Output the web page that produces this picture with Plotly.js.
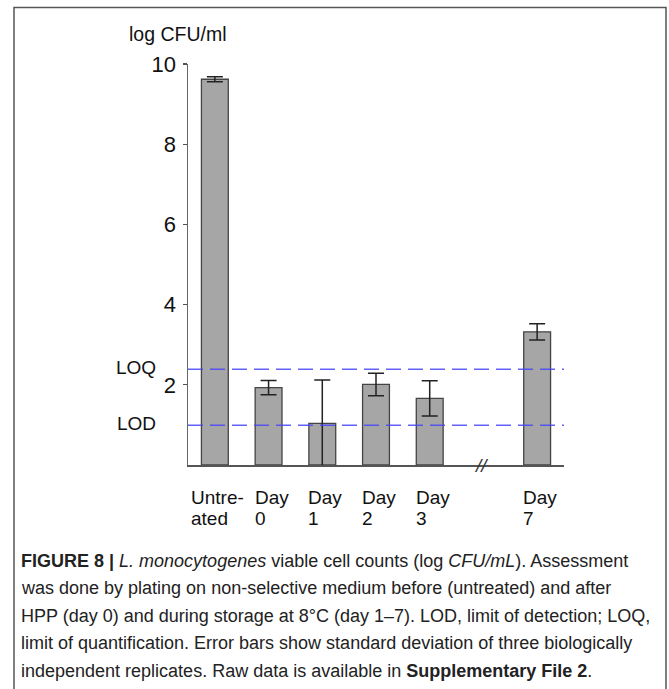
<!DOCTYPE html>
<html><head><meta charset="utf-8">
<script src="https://cdn.plot.ly/plotly-3.0.1.min.js"></script>
<style>html,body{margin:0;padding:0;background:#fff;}</style>
</head><body><div id="chart" style="width:669px;height:689px;"></div>
<script>
// ---- data ----
const categories = ['Untreated','Day 0','Day 1','Day 2','Day 3','break','Day 7'];
const tickLine1  = ['Untre-','Day','Day','Day','Day','','Day'];
const tickLine2  = ['ated','0','1','2','3','','7'];
const logCfu     = [9.62, 1.93, 1.04, 2.01, 1.66, null, 3.32];
const stdDev     = [0.06, 0.18, 1.08, 0.28, 0.44, null, 0.20];
const yTicks     = [2, 4, 6, 8, 10];
const limitNames = ['LOQ', 'LOD'];
const limitValues= [2.39, 0.99];
const yTitle     = 'log CFU/ml';
const breakMark  = '//';
const captionLines = [
  '<b>FIGURE 8 |</b> <i>L. monocytogenes</i> viable cell counts (log <i>CFU/mL</i>). Assessment',
  'was done by plating on non-selective medium before (untreated) and after',
  'HPP (day 0) and during storage at 8°C (day 1–7). LOD, limit of detection; LOQ,',
  'limit of quantification. Error bars show standard deviation of three biologically',
  'independent replicates. Raw data is available in <b>Supplementary File 2</b>.'
];

// ---- geometry ----
const W = 669, H = 689;
const L = 188, R = 564, T = 63.5, B = 465;
const pw = R - L, ph = B - T;
const px = x => (x - L) / pw;      // page x -> paper x
const py = y => (B - y) / ph;      // page y -> paper y

const FONT = '"Liberation Sans", Arial, sans-serif';
const tickSize = 19;
const ctx = document.createElement('canvas').getContext('2d');
ctx.font = tickSize + 'px "Liberation Sans"';

const annotations = [];
// y title
annotations.push({xref:'paper', yref:'paper', x:px(127), y:py(33), xanchor:'left', yanchor:'middle',
  text:yTitle, showarrow:false, font:{family:FONT, size:19.5, color:'#111'}});
// limit labels
limitNames.forEach((n,i)=>annotations.push({xref:'paper', yref:'y', x:px(158), y:limitValues[i], xanchor:'right', yanchor:'middle',
  yshift:1.5, text:n, showarrow:false, font:{family:FONT, size:19, color:'#111'}}));
// category labels (two lines, left-aligned to first line, first line centred on bar)
categories.forEach((c,i)=>{
  if(!tickLine1[i]) return;
  const w = ctx.measureText(tickLine1[i]).width;
  annotations.push({xref:'x', yref:'y', x:c, y:0, xanchor:'left', yanchor:'top', xshift:-w/2 + 1, yshift:-20,
    text:tickLine1[i], showarrow:false, font:{family:FONT, size:tickSize, color:'#111'}});
  annotations.push({xref:'x', yref:'y', x:c, y:0, xanchor:'left', yanchor:'top', xshift:-w/2 + 1, yshift:-41,
    text:tickLine2[i], showarrow:false, font:{family:FONT, size:tickSize, color:'#111'}});
});
// axis break mark
annotations.push({xref:'x', yref:'y', x:'break', y:0, xanchor:'center', yanchor:'middle', xshift:-2,
  text:'<i>' + breakMark + '</i>', showarrow:false, font:{family:FONT, size:19, color:'#333'}});
// caption
captionLines.forEach((t,i)=>annotations.push({xref:'paper', yref:'paper', x:px(19), y:py(561 + i*27.5),
  xanchor:'left', yanchor:'middle', text:t, showarrow:false, align:'left',
  font:{family:FONT, size:18, color:'#222'}}));

const shapes = [];
limitValues.forEach(v=>shapes.push({type:'line', xref:'paper', yref:'y', x0:0, x1:1, y0:v, y1:v,
  line:{color:'rgba(70,70,250,0.85)', width:1.5, dash:'15px,7px'}}));
// figure frame
shapes.push({type:'rect', xref:'paper', yref:'paper', x0:px(14), x1:px(666), y0:py(720), y1:py(7),
  line:{color:'#555', width:1.5}, fillcolor:'rgba(0,0,0,0)', layer:'below'});

const trace = {
  type:'bar', x:categories, y:logCfu, width:0.5,
  marker:{color:'#a6a6a6', line:{color:'#444', width:1.3}},
  error_y:{type:'data', array:stdDev, visible:true, color:'#222', thickness:1.5, width:8},
  hoverinfo:'skip'
};

const layout = {
  width:W, height:H, margin:{l:L, r:W-R, t:T, b:H-B, pad:0},
  paper_bgcolor:'#fff', plot_bgcolor:'#fff', showlegend:false,
  font:{family:FONT, color:'#111'},
  xaxis:{type:'category', categoryarray:categories, categoryorder:'array', range:[-0.5,6.5],
    showticklabels:false, ticks:'', showline:true, linecolor:'#555', linewidth:1.5,
    showgrid:false, zeroline:false, fixedrange:true},
  yaxis:{range:[0,10], tickvals:yTicks, ticks:'outside', ticklen:4, tickwidth:1.2, tickcolor:'#555',
    showline:true, linecolor:'#666', linewidth:1.5, showgrid:false, zeroline:false,
    tickfont:{family:FONT, size:22, color:'#111'}, ticklabelstandoff:2, fixedrange:true},
  annotations, shapes
};
Plotly.newPlot('chart', [trace], layout, {displayModeBar:false, staticPlot:true});
</script></body></html>
